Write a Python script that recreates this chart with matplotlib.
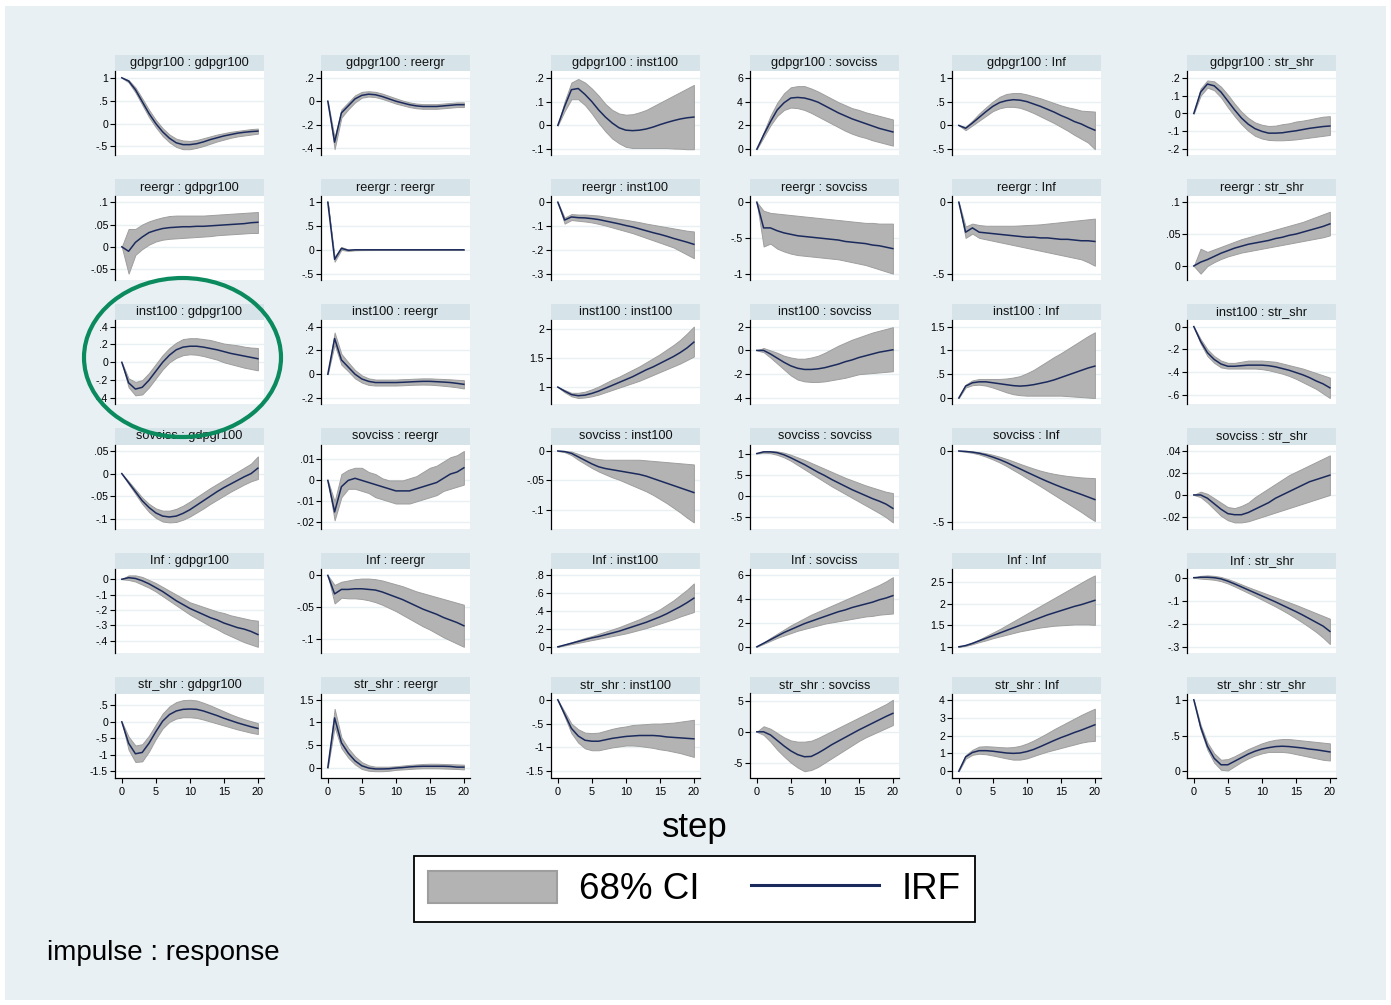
import matplotlib
matplotlib.use("Agg")
import matplotlib.pyplot as plt
from matplotlib.patches import Patch, Rectangle, Ellipse
from matplotlib.lines import Line2D

# ---------------------------------------------
# data: orthogonalised IRFs, 68% CI, steps 0..20
# ---------------------------------------------
steps = list(range(21))
variables = ["gdpgr100", "reergr", "inst100", "sovciss", "Inf", "str_shr"]

# impulse gdpgr100
gdp_gdp_irf = [1.0, 0.93, 0.74, 0.48, 0.22, 0.0, -0.18, -0.32, -0.42, -0.46, -0.46, -0.44, -0.40, -0.35, -0.31, -0.27, -0.24, -0.21, -0.19, -0.175, -0.165]
gdp_gdp_lo = [1.0, 0.90, 0.68, 0.41, 0.14, -0.08, -0.27, -0.41, -0.51, -0.56, -0.56, -0.53, -0.49, -0.44, -0.39, -0.35, -0.31, -0.28, -0.26, -0.24, -0.22]
gdp_gdp_hi = [1.0, 0.95, 0.79, 0.55, 0.30, 0.08, -0.10, -0.24, -0.33, -0.37, -0.38, -0.36, -0.32, -0.28, -0.24, -0.21, -0.18, -0.16, -0.14, -0.12, -0.11]
gdp_gdp_ticks = [-0.5, 0, 0.5, 1]

gdp_reer_irf = [0, -0.35, -0.10, -0.04, 0.02, 0.05, 0.06, 0.055, 0.04, 0.02, 0.0, -0.015, -0.03, -0.04, -0.045, -0.045, -0.045, -0.04, -0.035, -0.03, -0.03]
gdp_reer_lo = [0, -0.41, -0.14, -0.07, -0.01, 0.03, 0.04, 0.035, 0.02, 0.0, -0.02, -0.035, -0.05, -0.06, -0.065, -0.065, -0.065, -0.06, -0.055, -0.05, -0.05]
gdp_reer_hi = [0, -0.31, -0.07, -0.01, 0.05, 0.08, 0.085, 0.08, 0.065, 0.045, 0.025, 0.005, -0.01, -0.02, -0.025, -0.025, -0.025, -0.02, -0.015, -0.01, -0.01]
gdp_reer_ticks = [-0.4, -0.2, 0, 0.2]

gdp_inst_irf = [0, 0.08, 0.15, 0.155, 0.13, 0.10, 0.065, 0.035, 0.01, -0.01, -0.02, -0.022, -0.02, -0.015, -0.007, 0.003, 0.012, 0.02, 0.027, 0.032, 0.035]
gdp_inst_lo = [0, 0.06, 0.11, 0.11, 0.085, 0.05, 0.01, -0.025, -0.055, -0.075, -0.09, -0.095, -0.095, -0.095, -0.095, -0.095, -0.095, -0.097, -0.098, -0.10, -0.10]
gdp_inst_hi = [0, 0.10, 0.18, 0.195, 0.18, 0.155, 0.125, 0.09, 0.065, 0.05, 0.045, 0.047, 0.055, 0.065, 0.08, 0.095, 0.11, 0.125, 0.14, 0.155, 0.17]
gdp_inst_ticks = [-0.1, 0, 0.1, 0.2]

gdp_sov_irf = [0, 1.2, 2.3, 3.3, 3.9, 4.3, 4.35, 4.3, 4.15, 3.95, 3.65, 3.35, 3.05, 2.8, 2.55, 2.35, 2.15, 1.95, 1.75, 1.6, 1.45]
gdp_sov_lo = [0, 1.0, 2.0, 2.8, 3.3, 3.5, 3.45, 3.3, 3.05, 2.75, 2.45, 2.15, 1.85, 1.55, 1.3, 1.1, 0.95, 0.75, 0.6, 0.45, 0.3]
gdp_sov_hi = [0, 1.4, 2.8, 3.9, 4.7, 5.2, 5.3, 5.3, 5.1, 4.85, 4.55, 4.25, 3.95, 3.7, 3.45, 3.3, 3.1, 2.95, 2.8, 2.65, 2.5]
gdp_sov_ticks = [0, 2, 4, 6]

gdp_inf_irf = [0, -0.06, 0.05, 0.17, 0.29, 0.40, 0.48, 0.52, 0.54, 0.53, 0.50, 0.45, 0.40, 0.34, 0.28, 0.21, 0.15, 0.08, 0.03, -0.04, -0.10]
gdp_inf_lo = [0, -0.10, 0.0, 0.10, 0.20, 0.30, 0.36, 0.39, 0.39, 0.37, 0.32, 0.26, 0.19, 0.12, 0.05, -0.03, -0.11, -0.20, -0.28, -0.36, -0.50]
gdp_inf_hi = [0, -0.03, 0.10, 0.25, 0.38, 0.50, 0.60, 0.66, 0.68, 0.68, 0.65, 0.61, 0.57, 0.52, 0.47, 0.42, 0.38, 0.35, 0.31, 0.30, 0.29]
gdp_inf_ticks = [-0.5, 0, 0.5, 1]

gdp_shr_irf = [0, 0.12, 0.165, 0.155, 0.12, 0.07, 0.02, -0.025, -0.06, -0.085, -0.10, -0.11, -0.11, -0.108, -0.102, -0.097, -0.09, -0.083, -0.078, -0.073, -0.07]
gdp_shr_lo = [0, 0.10, 0.145, 0.13, 0.09, 0.035, -0.015, -0.06, -0.097, -0.125, -0.14, -0.148, -0.15, -0.15, -0.148, -0.145, -0.14, -0.135, -0.13, -0.125, -0.12]
gdp_shr_hi = [0, 0.14, 0.185, 0.18, 0.15, 0.105, 0.055, 0.01, -0.025, -0.05, -0.063, -0.07, -0.068, -0.06, -0.055, -0.045, -0.04, -0.033, -0.025, -0.018, -0.015]
gdp_shr_ticks = [-0.2, -0.1, 0, 0.1, 0.2]

# impulse reergr
reer_gdp_irf = [0, -0.01, 0.01, 0.022, 0.032, 0.037, 0.041, 0.043, 0.044, 0.045, 0.045, 0.046, 0.046, 0.047, 0.048, 0.049, 0.05, 0.051, 0.052, 0.054, 0.055]
reer_gdp_lo = [0, -0.06, -0.018, -0.005, 0.005, 0.012, 0.016, 0.018, 0.019, 0.02, 0.021, 0.022, 0.023, 0.024, 0.026, 0.027, 0.028, 0.029, 0.03, 0.031, 0.031]
reer_gdp_hi = [0, 0.04, 0.04, 0.05, 0.057, 0.062, 0.066, 0.069, 0.07, 0.07, 0.07, 0.07, 0.07, 0.071, 0.072, 0.073, 0.074, 0.075, 0.076, 0.077, 0.078]
reer_gdp_ticks = [-0.05, 0, 0.05, 0.1]

reer_reer_irf = [1.0, -0.2, 0.03, -0.01, 0.0, 0.0, 0.0, 0.0, 0.0, 0.0, 0.0, 0.0, 0.0, 0.0, 0.0, 0.0, 0.0, 0.0, 0.0, 0.0, 0.0]
reer_reer_lo = [1.0, -0.25, 0.0, -0.025, -0.01, -0.006, -0.005, -0.004, -0.004, -0.004, -0.004, -0.004, -0.004, -0.004, -0.004, -0.004, -0.004, -0.004, -0.004, -0.004, -0.004]
reer_reer_hi = [1.0, -0.15, 0.06, 0.005, 0.01, 0.006, 0.005, 0.004, 0.004, 0.004, 0.004, 0.004, 0.004, 0.004, 0.004, 0.004, 0.004, 0.004, 0.004, 0.004, 0.004]
reer_reer_ticks = [-0.5, 0, 0.5, 1]

reer_inst_irf = [0, -0.075, -0.062, -0.065, -0.066, -0.069, -0.073, -0.079, -0.085, -0.091, -0.098, -0.104, -0.112, -0.12, -0.128, -0.135, -0.143, -0.152, -0.16, -0.168, -0.177]
reer_inst_lo = [0, -0.09, -0.075, -0.078, -0.081, -0.085, -0.091, -0.098, -0.106, -0.114, -0.122, -0.13, -0.14, -0.15, -0.16, -0.17, -0.18, -0.19, -0.205, -0.22, -0.235]
reer_inst_hi = [0, -0.065, -0.05, -0.052, -0.052, -0.054, -0.056, -0.061, -0.065, -0.07, -0.074, -0.079, -0.084, -0.09, -0.095, -0.10, -0.105, -0.11, -0.115, -0.12, -0.123]
reer_inst_ticks = [-0.3, -0.2, -0.1, 0]

reer_sov_irf = [0, -0.36, -0.36, -0.40, -0.43, -0.45, -0.47, -0.48, -0.49, -0.50, -0.51, -0.52, -0.53, -0.55, -0.56, -0.57, -0.58, -0.60, -0.61, -0.63, -0.65]
reer_sov_lo = [0, -0.62, -0.58, -0.65, -0.69, -0.72, -0.74, -0.75, -0.76, -0.77, -0.78, -0.79, -0.80, -0.82, -0.84, -0.86, -0.88, -0.91, -0.94, -0.97, -1.0]
reer_sov_hi = [0, -0.12, -0.15, -0.16, -0.17, -0.18, -0.19, -0.20, -0.21, -0.22, -0.23, -0.24, -0.25, -0.26, -0.27, -0.28, -0.29, -0.29, -0.30, -0.30, -0.30]
reer_sov_ticks = [-1, -0.5, 0]

reer_inf_irf = [0, -0.21, -0.18, -0.21, -0.215, -0.22, -0.225, -0.23, -0.235, -0.24, -0.245, -0.245, -0.25, -0.25, -0.255, -0.26, -0.26, -0.265, -0.27, -0.27, -0.275]
reer_inf_lo = [0, -0.25, -0.22, -0.25, -0.26, -0.27, -0.28, -0.29, -0.30, -0.31, -0.32, -0.33, -0.34, -0.35, -0.36, -0.37, -0.38, -0.39, -0.40, -0.42, -0.445]
reer_inf_hi = [0, -0.17, -0.15, -0.16, -0.165, -0.165, -0.165, -0.165, -0.165, -0.163, -0.16, -0.158, -0.155, -0.15, -0.145, -0.14, -0.135, -0.13, -0.125, -0.12, -0.115]
reer_inf_ticks = [-0.5, 0]

reer_shr_irf = [0, 0.006, 0.01, 0.015, 0.02, 0.024, 0.028, 0.031, 0.034, 0.036, 0.038, 0.04, 0.043, 0.045, 0.048, 0.05, 0.053, 0.056, 0.059, 0.062, 0.066]
reer_shr_lo = [0, -0.012, 0.0, 0.006, 0.011, 0.015, 0.018, 0.021, 0.023, 0.025, 0.027, 0.029, 0.031, 0.033, 0.035, 0.037, 0.039, 0.041, 0.043, 0.045, 0.048]
reer_shr_hi = [0, 0.027, 0.022, 0.026, 0.03, 0.034, 0.038, 0.042, 0.045, 0.048, 0.051, 0.054, 0.057, 0.06, 0.063, 0.066, 0.069, 0.073, 0.077, 0.081, 0.085]
reer_shr_ticks = [0, 0.05, 0.1]

# impulse inst100
inst_gdp_irf = [0, -0.23, -0.30, -0.28, -0.20, -0.10, 0.0, 0.08, 0.14, 0.17, 0.18, 0.18, 0.17, 0.155, 0.14, 0.12, 0.10, 0.085, 0.07, 0.055, 0.04]
inst_gdp_lo = [0, -0.28, -0.37, -0.36, -0.28, -0.18, -0.08, 0.0, 0.05, 0.08, 0.09, 0.085, 0.07, 0.05, 0.03, 0.0, -0.02, -0.04, -0.06, -0.075, -0.09]
inst_gdp_hi = [0, -0.18, -0.22, -0.20, -0.12, -0.02, 0.08, 0.16, 0.22, 0.26, 0.27, 0.27, 0.26, 0.25, 0.23, 0.21, 0.20, 0.19, 0.175, 0.165, 0.16]
inst_gdp_ticks = [-0.4, -0.2, 0, 0.2, 0.4]

inst_reer_irf = [0, 0.30, 0.12, 0.06, 0.0, -0.04, -0.06, -0.07, -0.07, -0.07, -0.07, -0.068, -0.065, -0.062, -0.06, -0.06, -0.063, -0.066, -0.07, -0.077, -0.085]
inst_reer_lo = [0, 0.25, 0.08, 0.025, -0.035, -0.07, -0.09, -0.095, -0.095, -0.095, -0.095, -0.093, -0.09, -0.088, -0.087, -0.088, -0.092, -0.097, -0.103, -0.11, -0.12]
inst_reer_hi = [0, 0.35, 0.17, 0.10, 0.035, -0.01, -0.035, -0.045, -0.045, -0.045, -0.045, -0.042, -0.04, -0.037, -0.035, -0.035, -0.038, -0.04, -0.043, -0.047, -0.05]
inst_reer_ticks = [-0.2, 0, 0.2, 0.4]

inst_inst_irf = [1.0, 0.93, 0.87, 0.85, 0.86, 0.89, 0.93, 0.98, 1.03, 1.08, 1.13, 1.18, 1.24, 1.30, 1.35, 1.41, 1.47, 1.53, 1.60, 1.68, 1.78]
inst_inst_lo = [1.0, 0.91, 0.84, 0.81, 0.82, 0.84, 0.87, 0.91, 0.95, 0.99, 1.03, 1.07, 1.11, 1.16, 1.21, 1.26, 1.31, 1.36, 1.41, 1.47, 1.53]
inst_inst_hi = [1.0, 0.95, 0.90, 0.90, 0.92, 0.96, 1.01, 1.07, 1.13, 1.18, 1.24, 1.30, 1.36, 1.43, 1.50, 1.57, 1.65, 1.73, 1.82, 1.93, 2.05]
inst_inst_ticks = [1, 1.5, 2]

inst_sov_irf = [0, 0.0, -0.3, -0.65, -1.0, -1.3, -1.5, -1.6, -1.6, -1.55, -1.45, -1.3, -1.15, -0.95, -0.8, -0.6, -0.45, -0.3, -0.15, -0.05, 0.05]
inst_sov_lo = [0, -0.15, -0.6, -1.1, -1.6, -2.1, -2.45, -2.6, -2.65, -2.65, -2.6, -2.5, -2.4, -2.3, -2.15, -2.0, -1.95, -1.9, -1.85, -1.8, -1.75]
inst_sov_hi = [0, 0.2, 0.0, -0.2, -0.45, -0.6, -0.7, -0.7, -0.6, -0.45, -0.2, 0.1, 0.4, 0.65, 0.9, 1.1, 1.3, 1.5, 1.65, 1.8, 1.95]
inst_sov_ticks = [-4, -2, 0, 2]

inst_inf_irf = [0, 0.25, 0.32, 0.34, 0.34, 0.32, 0.30, 0.28, 0.26, 0.25, 0.26, 0.28, 0.31, 0.34, 0.38, 0.43, 0.48, 0.53, 0.58, 0.63, 0.67]
inst_inf_lo = [0, 0.22, 0.27, 0.28, 0.26, 0.22, 0.17, 0.12, 0.08, 0.06, 0.05, 0.05, 0.05, 0.05, 0.05, 0.05, 0.04, 0.03, 0.02, 0.01, 0.0]
inst_inf_hi = [0, 0.28, 0.37, 0.40, 0.40, 0.40, 0.40, 0.41, 0.43, 0.46, 0.52, 0.59, 0.68, 0.77, 0.86, 0.94, 1.03, 1.12, 1.21, 1.30, 1.38]
inst_inf_ticks = [0, 0.5, 1, 1.5]

inst_shr_irf = [0, -0.13, -0.23, -0.29, -0.33, -0.35, -0.35, -0.345, -0.34, -0.34, -0.34, -0.345, -0.355, -0.37, -0.385, -0.405, -0.425, -0.45, -0.48, -0.505, -0.54]
inst_shr_lo = [0, -0.15, -0.26, -0.32, -0.36, -0.37, -0.37, -0.37, -0.37, -0.37, -0.375, -0.385, -0.40, -0.415, -0.435, -0.46, -0.49, -0.52, -0.55, -0.59, -0.63]
inst_shr_hi = [0, -0.11, -0.20, -0.26, -0.30, -0.32, -0.32, -0.31, -0.30, -0.30, -0.30, -0.305, -0.31, -0.325, -0.34, -0.355, -0.37, -0.39, -0.41, -0.43, -0.45]
inst_shr_ticks = [-0.6, -0.4, -0.2, 0]

# impulse sovciss
sov_gdp_irf = [0, -0.02, -0.04, -0.06, -0.075, -0.087, -0.094, -0.096, -0.094, -0.088, -0.08, -0.07, -0.06, -0.05, -0.04, -0.031, -0.023, -0.015, -0.007, 0.0, 0.012]
sov_gdp_lo = [0, -0.023, -0.045, -0.067, -0.085, -0.098, -0.106, -0.108, -0.107, -0.102, -0.095, -0.086, -0.077, -0.067, -0.058, -0.049, -0.04, -0.032, -0.024, -0.017, -0.012]
sov_gdp_hi = [0, -0.017, -0.035, -0.053, -0.067, -0.077, -0.082, -0.082, -0.078, -0.071, -0.062, -0.052, -0.042, -0.032, -0.023, -0.014, -0.005, 0.004, 0.013, 0.022, 0.038]
sov_gdp_ticks = [-0.1, -0.05, 0, 0.05]

sov_reer_irf = [0, -0.015, -0.003, 0.0, 0.001, 0.0, -0.001, -0.002, -0.003, -0.004, -0.005, -0.005, -0.005, -0.004, -0.003, -0.002, -0.001, 0.001, 0.003, 0.004, 0.006]
sov_reer_lo = [0, -0.019, -0.008, -0.004, -0.004, -0.005, -0.006, -0.008, -0.009, -0.010, -0.011, -0.011, -0.011, -0.010, -0.009, -0.008, -0.007, -0.005, -0.004, -0.003, -0.002]
sov_reer_hi = [0, -0.010, 0.003, 0.005, 0.006, 0.006, 0.004, 0.003, 0.001, 0.0, 0.0, 0.0, 0.001, 0.002, 0.004, 0.006, 0.007, 0.009, 0.011, 0.012, 0.014]
sov_reer_ticks = [-0.02, -0.01, 0, 0.01]

sov_inst_irf = [0, -0.001, -0.004, -0.01, -0.016, -0.022, -0.027, -0.03, -0.032, -0.034, -0.036, -0.038, -0.04, -0.043, -0.047, -0.051, -0.055, -0.059, -0.063, -0.067, -0.071]
sov_inst_lo = [0, -0.002, -0.007, -0.015, -0.022, -0.029, -0.035, -0.04, -0.045, -0.049, -0.054, -0.059, -0.064, -0.069, -0.075, -0.082, -0.089, -0.097, -0.105, -0.114, -0.122]
sov_inst_hi = [0, 0.0, -0.001, -0.005, -0.009, -0.012, -0.014, -0.015, -0.015, -0.015, -0.015, -0.015, -0.015, -0.016, -0.017, -0.018, -0.019, -0.02, -0.021, -0.022, -0.023]
sov_inst_ticks = [-0.1, -0.05, 0]

sov_sov_irf = [1.0, 1.04, 1.04, 1.02, 0.97, 0.90, 0.82, 0.74, 0.65, 0.56, 0.48, 0.39, 0.31, 0.23, 0.15, 0.08, 0.01, -0.06, -0.12, -0.19, -0.29]
sov_sov_lo = [1.0, 1.02, 1.01, 0.97, 0.91, 0.83, 0.73, 0.63, 0.53, 0.43, 0.33, 0.23, 0.14, 0.05, -0.04, -0.13, -0.22, -0.31, -0.40, -0.50, -0.62]
sov_sov_hi = [1.0, 1.05, 1.06, 1.05, 1.02, 0.97, 0.91, 0.85, 0.78, 0.71, 0.64, 0.57, 0.50, 0.43, 0.37, 0.31, 0.25, 0.20, 0.15, 0.10, 0.07]
sov_sov_ticks = [-0.5, 0, 0.5, 1]

sov_inf_irf = [0, -0.003, -0.008, -0.016, -0.028, -0.043, -0.06, -0.08, -0.103, -0.125, -0.148, -0.17, -0.192, -0.213, -0.233, -0.252, -0.27, -0.287, -0.304, -0.322, -0.34]
sov_inf_lo = [0, -0.006, -0.013, -0.024, -0.04, -0.059, -0.08, -0.105, -0.133, -0.16, -0.19, -0.218, -0.247, -0.277, -0.307, -0.337, -0.367, -0.397, -0.427, -0.46, -0.49]
sov_inf_hi = [0, 0.0, -0.003, -0.008, -0.016, -0.027, -0.04, -0.055, -0.072, -0.09, -0.107, -0.123, -0.138, -0.15, -0.16, -0.168, -0.175, -0.18, -0.185, -0.188, -0.19]
sov_inf_ticks = [-0.5, 0]

sov_shr_irf = [0, 0.0, -0.003, -0.008, -0.013, -0.017, -0.018, -0.018, -0.016, -0.013, -0.01, -0.007, -0.003, 0.0, 0.003, 0.006, 0.009, 0.012, 0.014, 0.016, 0.018]
sov_shr_lo = [0, -0.002, -0.007, -0.013, -0.019, -0.023, -0.025, -0.025, -0.024, -0.022, -0.02, -0.018, -0.016, -0.014, -0.012, -0.01, -0.008, -0.006, -0.004, -0.002, 0.0]
sov_shr_hi = [0, 0.003, 0.001, -0.003, -0.007, -0.011, -0.012, -0.01, -0.007, -0.002, 0.002, 0.006, 0.01, 0.014, 0.018, 0.021, 0.024, 0.027, 0.03, 0.033, 0.036]
sov_shr_ticks = [-0.02, 0, 0.02, 0.04]

# impulse Inf
inf_gdp_irf = [0, 0.01, 0.005, -0.01, -0.03, -0.055, -0.08, -0.11, -0.14, -0.165, -0.19, -0.21, -0.23, -0.25, -0.265, -0.285, -0.30, -0.315, -0.325, -0.34, -0.36]
inf_gdp_lo = [0, -0.005, -0.015, -0.035, -0.055, -0.08, -0.11, -0.14, -0.17, -0.20, -0.23, -0.255, -0.28, -0.305, -0.325, -0.35, -0.37, -0.39, -0.41, -0.425, -0.44]
inf_gdp_hi = [0, 0.025, 0.025, 0.015, -0.005, -0.025, -0.05, -0.075, -0.10, -0.125, -0.15, -0.165, -0.18, -0.195, -0.21, -0.22, -0.235, -0.245, -0.255, -0.265, -0.27]
inf_gdp_ticks = [-0.4, -0.3, -0.2, -0.1, 0]

inf_reer_irf = [0, -0.029, -0.022, -0.022, -0.021, -0.021, -0.022, -0.023, -0.026, -0.03, -0.034, -0.038, -0.043, -0.048, -0.053, -0.057, -0.061, -0.066, -0.07, -0.074, -0.079]
inf_reer_lo = [0, -0.044, -0.035, -0.036, -0.036, -0.037, -0.039, -0.042, -0.046, -0.051, -0.056, -0.062, -0.068, -0.074, -0.08, -0.085, -0.091, -0.097, -0.102, -0.107, -0.112]
inf_reer_hi = [0, -0.015, -0.01, -0.008, -0.006, -0.005, -0.005, -0.006, -0.008, -0.011, -0.014, -0.017, -0.021, -0.025, -0.028, -0.031, -0.034, -0.037, -0.04, -0.043, -0.046]
inf_reer_ticks = [-0.1, -0.05, 0]

inf_inst_irf = [0, 0.02, 0.04, 0.06, 0.08, 0.10, 0.115, 0.135, 0.155, 0.175, 0.20, 0.225, 0.25, 0.275, 0.305, 0.335, 0.37, 0.41, 0.45, 0.495, 0.545]
inf_inst_lo = [0, 0.015, 0.03, 0.045, 0.06, 0.075, 0.09, 0.105, 0.12, 0.135, 0.15, 0.17, 0.19, 0.21, 0.235, 0.26, 0.285, 0.31, 0.34, 0.365, 0.39]
inf_inst_hi = [0, 0.025, 0.05, 0.075, 0.10, 0.12, 0.145, 0.17, 0.195, 0.22, 0.25, 0.28, 0.31, 0.345, 0.38, 0.42, 0.47, 0.52, 0.58, 0.64, 0.71]
inf_inst_ticks = [0, 0.2, 0.4, 0.6, 0.8]

inf_sov_irf = [0, 0.3, 0.6, 0.9, 1.2, 1.45, 1.7, 1.95, 2.15, 2.35, 2.55, 2.75, 2.95, 3.1, 3.3, 3.45, 3.6, 3.75, 3.95, 4.1, 4.3]
inf_sov_lo = [0, 0.25, 0.5, 0.75, 0.95, 1.15, 1.35, 1.5, 1.65, 1.8, 1.95, 2.05, 2.15, 2.25, 2.35, 2.45, 2.55, 2.6, 2.7, 2.75, 2.8]
inf_sov_hi = [0, 0.35, 0.75, 1.1, 1.45, 1.8, 2.1, 2.4, 2.7, 2.95, 3.2, 3.45, 3.7, 3.95, 4.2, 4.45, 4.7, 4.95, 5.2, 5.5, 5.85]
inf_sov_ticks = [0, 2, 4, 6]

inf_inf_irf = [1.0, 1.03, 1.08, 1.14, 1.20, 1.26, 1.32, 1.38, 1.44, 1.50, 1.56, 1.62, 1.68, 1.74, 1.79, 1.84, 1.89, 1.94, 1.98, 2.03, 2.08]
inf_inf_lo = [1.0, 1.02, 1.06, 1.11, 1.15, 1.20, 1.24, 1.28, 1.32, 1.36, 1.39, 1.42, 1.45, 1.47, 1.49, 1.50, 1.51, 1.52, 1.52, 1.52, 1.51]
inf_inf_hi = [1.0, 1.04, 1.10, 1.17, 1.25, 1.33, 1.41, 1.50, 1.59, 1.68, 1.77, 1.86, 1.95, 2.04, 2.13, 2.22, 2.31, 2.40, 2.49, 2.58, 2.66]
inf_inf_ticks = [1, 1.5, 2, 2.5]

inf_shr_irf = [0, 0.002, 0.002, 0.0, -0.005, -0.015, -0.027, -0.04, -0.053, -0.066, -0.079, -0.092, -0.105, -0.119, -0.133, -0.147, -0.162, -0.178, -0.194, -0.21, -0.233]
inf_shr_lo = [0, -0.004, -0.006, -0.009, -0.015, -0.025, -0.038, -0.052, -0.066, -0.08, -0.095, -0.11, -0.125, -0.141, -0.158, -0.176, -0.195, -0.215, -0.236, -0.26, -0.288]
inf_shr_hi = [0, 0.008, 0.01, 0.008, 0.003, -0.006, -0.017, -0.029, -0.041, -0.052, -0.063, -0.074, -0.085, -0.096, -0.107, -0.118, -0.13, -0.142, -0.154, -0.166, -0.178]
inf_shr_ticks = [-0.3, -0.2, -0.1, 0]

# impulse str_shr
shr_gdp_irf = [0, -0.65, -0.97, -0.93, -0.65, -0.30, 0.02, 0.22, 0.33, 0.38, 0.39, 0.38, 0.33, 0.26, 0.19, 0.11, 0.04, -0.03, -0.09, -0.15, -0.20]
shr_gdp_lo = [0, -0.85, -1.22, -1.20, -0.90, -0.52, -0.20, 0.0, 0.10, 0.14, 0.14, 0.12, 0.07, 0.01, -0.05, -0.11, -0.17, -0.23, -0.28, -0.33, -0.37]
shr_gdp_hi = [0, -0.45, -0.72, -0.68, -0.42, -0.08, 0.25, 0.47, 0.60, 0.66, 0.67, 0.65, 0.58, 0.50, 0.41, 0.32, 0.23, 0.15, 0.08, 0.02, -0.04]
shr_gdp_ticks = [-1.5, -1, -0.5, 0, 0.5]

shr_reer_irf = [0, 1.1, 0.55, 0.32, 0.15, 0.04, -0.01, -0.03, -0.03, -0.025, -0.01, 0.0, 0.015, 0.025, 0.03, 0.03, 0.03, 0.03, 0.025, 0.01, 0.01]
shr_reer_lo = [0, 0.9, 0.43, 0.22, 0.07, -0.03, -0.07, -0.08, -0.08, -0.07, -0.05, -0.04, -0.03, -0.02, -0.015, -0.015, -0.015, -0.02, -0.025, -0.03, -0.04]
shr_reer_hi = [0, 1.3, 0.67, 0.43, 0.25, 0.12, 0.05, 0.02, 0.02, 0.02, 0.03, 0.045, 0.06, 0.07, 0.08, 0.085, 0.085, 0.08, 0.075, 0.07, 0.065]
shr_reer_ticks = [0, 0.5, 1, 1.5]

shr_inst_irf = [0, -0.30, -0.60, -0.76, -0.85, -0.87, -0.87, -0.84, -0.81, -0.79, -0.77, -0.76, -0.75, -0.75, -0.75, -0.76, -0.78, -0.79, -0.80, -0.81, -0.82]
shr_inst_lo = [0, -0.35, -0.70, -0.90, -1.02, -1.06, -1.06, -1.03, -1.00, -0.98, -0.96, -0.96, -0.97, -0.99, -1.01, -1.04, -1.06, -1.09, -1.12, -1.16, -1.20]
shr_inst_hi = [0, -0.25, -0.50, -0.62, -0.69, -0.70, -0.69, -0.65, -0.61, -0.58, -0.56, -0.53, -0.52, -0.51, -0.50, -0.50, -0.49, -0.48, -0.46, -0.44, -0.42]
shr_inst_ticks = [-1.5, -1, -0.5, 0]

shr_sov_irf = [0, 0.0, -0.5, -1.4, -2.3, -3.1, -3.7, -4.05, -4.0, -3.45, -2.8, -2.1, -1.5, -0.9, -0.3, 0.3, 0.85, 1.4, 1.95, 2.5, 3.0]
shr_sov_lo = [0, -0.5, -1.6, -2.9, -4.0, -5.0, -5.8, -6.4, -6.2, -5.7, -5.0, -4.3, -3.6, -2.9, -2.2, -1.5, -0.9, -0.4, 0.1, 0.6, 1.1]
shr_sov_hi = [0, 0.9, 0.5, -0.2, -0.9, -1.4, -1.6, -1.6, -1.45, -1.0, -0.45, 0.1, 0.65, 1.2, 1.75, 2.3, 2.85, 3.4, 3.95, 4.5, 5.2]
shr_sov_ticks = [-5, 0, 5]

shr_inf_irf = [0, 0.8, 1.05, 1.15, 1.15, 1.12, 1.07, 1.02, 1.0, 1.02, 1.10, 1.22, 1.38, 1.55, 1.72, 1.88, 2.02, 2.17, 2.30, 2.45, 2.60]
shr_inf_lo = [0, 0.7, 0.92, 0.98, 0.95, 0.88, 0.80, 0.72, 0.65, 0.65, 0.72, 0.85, 0.98, 1.10, 1.20, 1.30, 1.40, 1.50, 1.60, 1.67, 1.70]
shr_inf_hi = [0, 0.9, 1.20, 1.38, 1.40, 1.38, 1.35, 1.33, 1.35, 1.42, 1.55, 1.72, 1.92, 2.13, 2.35, 2.55, 2.75, 2.95, 3.15, 3.33, 3.50]
shr_inf_ticks = [0, 1, 2, 3, 4]

shr_shr_irf = [1.0, 0.62, 0.35, 0.18, 0.09, 0.09, 0.14, 0.19, 0.24, 0.28, 0.31, 0.33, 0.345, 0.35, 0.345, 0.335, 0.325, 0.31, 0.30, 0.285, 0.27]
shr_shr_lo = [1.0, 0.58, 0.30, 0.12, 0.02, 0.01, 0.07, 0.13, 0.18, 0.22, 0.25, 0.27, 0.27, 0.27, 0.26, 0.24, 0.22, 0.20, 0.18, 0.16, 0.15]
shr_shr_hi = [1.0, 0.65, 0.40, 0.25, 0.16, 0.17, 0.21, 0.26, 0.31, 0.35, 0.39, 0.42, 0.44, 0.45, 0.45, 0.44, 0.43, 0.42, 0.41, 0.40, 0.39]
shr_shr_ticks = [0, 0.5, 1]

x_ticks = [0, 5, 10, 15, 20]

# rows = impulse, columns = response
panels = [
    [(gdp_gdp_irf, gdp_gdp_lo, gdp_gdp_hi, gdp_gdp_ticks), (gdp_reer_irf, gdp_reer_lo, gdp_reer_hi, gdp_reer_ticks),
     (gdp_inst_irf, gdp_inst_lo, gdp_inst_hi, gdp_inst_ticks), (gdp_sov_irf, gdp_sov_lo, gdp_sov_hi, gdp_sov_ticks),
     (gdp_inf_irf, gdp_inf_lo, gdp_inf_hi, gdp_inf_ticks), (gdp_shr_irf, gdp_shr_lo, gdp_shr_hi, gdp_shr_ticks)],
    [(reer_gdp_irf, reer_gdp_lo, reer_gdp_hi, reer_gdp_ticks), (reer_reer_irf, reer_reer_lo, reer_reer_hi, reer_reer_ticks),
     (reer_inst_irf, reer_inst_lo, reer_inst_hi, reer_inst_ticks), (reer_sov_irf, reer_sov_lo, reer_sov_hi, reer_sov_ticks),
     (reer_inf_irf, reer_inf_lo, reer_inf_hi, reer_inf_ticks), (reer_shr_irf, reer_shr_lo, reer_shr_hi, reer_shr_ticks)],
    [(inst_gdp_irf, inst_gdp_lo, inst_gdp_hi, inst_gdp_ticks), (inst_reer_irf, inst_reer_lo, inst_reer_hi, inst_reer_ticks),
     (inst_inst_irf, inst_inst_lo, inst_inst_hi, inst_inst_ticks), (inst_sov_irf, inst_sov_lo, inst_sov_hi, inst_sov_ticks),
     (inst_inf_irf, inst_inf_lo, inst_inf_hi, inst_inf_ticks), (inst_shr_irf, inst_shr_lo, inst_shr_hi, inst_shr_ticks)],
    [(sov_gdp_irf, sov_gdp_lo, sov_gdp_hi, sov_gdp_ticks), (sov_reer_irf, sov_reer_lo, sov_reer_hi, sov_reer_ticks),
     (sov_inst_irf, sov_inst_lo, sov_inst_hi, sov_inst_ticks), (sov_sov_irf, sov_sov_lo, sov_sov_hi, sov_sov_ticks),
     (sov_inf_irf, sov_inf_lo, sov_inf_hi, sov_inf_ticks), (sov_shr_irf, sov_shr_lo, sov_shr_hi, sov_shr_ticks)],
    [(inf_gdp_irf, inf_gdp_lo, inf_gdp_hi, inf_gdp_ticks), (inf_reer_irf, inf_reer_lo, inf_reer_hi, inf_reer_ticks),
     (inf_inst_irf, inf_inst_lo, inf_inst_hi, inf_inst_ticks), (inf_sov_irf, inf_sov_lo, inf_sov_hi, inf_sov_ticks),
     (inf_inf_irf, inf_inf_lo, inf_inf_hi, inf_inf_ticks), (inf_shr_irf, inf_shr_lo, inf_shr_hi, inf_shr_ticks)],
    [(shr_gdp_irf, shr_gdp_lo, shr_gdp_hi, shr_gdp_ticks), (shr_reer_irf, shr_reer_lo, shr_reer_hi, shr_reer_ticks),
     (shr_inst_irf, shr_inst_lo, shr_inst_hi, shr_inst_ticks), (shr_sov_irf, shr_sov_lo, shr_sov_hi, shr_sov_ticks),
     (shr_inf_irf, shr_inf_lo, shr_inf_hi, shr_inf_ticks), (shr_shr_irf, shr_shr_lo, shr_shr_hi, shr_shr_ticks)],
]

# ---------------------------------------------
# style (Stata s2color look)
# ---------------------------------------------
BG = "#E8F0F3"
STRIP = "#D6E3E9"
GRID = "#E8F0F3"
CI_FACE = "#B3B3B3"
CI_EDGE = "#9E9E9E"
IRF_COL = "#1B2A5C"
RING = "#0B8A5E"

plt.rcParams["font.family"] = ["Liberation Sans", "DejaVu Sans"]


def stata_label(v):
    s = f"{v:g}"
    if abs(v) < 1:
        s = s.replace("0.", ".")
    return s


W, H = 1391, 1005
fig = plt.figure(figsize=(W / 100, H / 100), dpi=100, facecolor="white")
fig.add_artist(Rectangle((5 / W, 5 / H), 1 - 10 / W, 1 - 11 / H, transform=fig.transFigure,
                         facecolor=BG, edgecolor="none", zorder=-10))

col_left = [115, 321, 551, 750, 952, 1187]
row_top = [71.5, 195.9, 320.3, 444.7, 569.1, 693.5]
ax_w, ax_h, strip_h = 149, 84, 16.5

for i in range(6):
    for j in range(6):
        irf, lo, hi, yt = panels[i][j]
        ax = fig.add_axes([col_left[j] / W, 1 - (row_top[i] + ax_h) / H, ax_w / W, ax_h / H])
        ax.set_facecolor("white")
        ax.fill_between(steps, lo, hi, facecolor=CI_FACE, edgecolor=CI_EDGE, lw=0.7, zorder=2)
        ax.plot(steps, irf, color=IRF_COL, lw=1.1, zorder=3)

        ymin = min(min(lo), min(yt))
        ymax = max(max(hi), max(yt))
        pad = 0.088 * (ymax - ymin)
        ax.set_ylim(ymin - pad, ymax + pad)
        ax.set_xlim(-1, 20.9)

        ax.set_yticks(yt)
        ax.set_yticklabels([stata_label(v) for v in yt])
        ax.yaxis.grid(True, color=GRID, lw=1.0)
        ax.set_axisbelow(True)
        ax.tick_params(axis="y", length=3.5, width=0.8, pad=1.5, labelsize=7.6, colors="black")

        for side in ["top", "right"]:
            ax.spines[side].set_visible(False)
        ax.spines["left"].set_linewidth(0.9)
        if i == 5:
            ax.set_xticks(x_ticks)
            ax.tick_params(axis="x", length=3.5, width=0.8, pad=3, labelsize=7.8)
            ax.spines["bottom"].set_linewidth(0.9)
        else:
            ax.set_xticks([])
            ax.spines["bottom"].set_visible(False)

        # title strip
        ax.add_patch(Rectangle((0, 1), 1, strip_h / ax_h, transform=ax.transAxes, clip_on=False,
                               facecolor=STRIP, edgecolor="none", zorder=1))
        ax.text(0.5, 1 + strip_h / ax_h / 2, f"{variables[i]} : {variables[j]}", transform=ax.transAxes,
                ha="center", va="center", fontsize=9.2, color="#111111")

fig.text(695 / W, 1 - 828 / H, "step", ha="center", va="center", fontsize=25)
fig.text(47 / W, 1 - 953 / H, "impulse : response", ha="left", va="center", fontsize=20)

handles = [Patch(facecolor=CI_FACE, edgecolor=CI_EDGE, lw=1.5, label="68% CI"),
           Line2D([], [], color=IRF_COL, lw=2.2, label="IRF")]
leg = fig.legend(handles=handles, loc="center", bbox_to_anchor=(694.5 / W, 1 - 889 / H), ncol=2,
                 fontsize=26.5, frameon=True, fancybox=False, edgecolor="black", framealpha=1,
                 handlelength=3.5, handleheight=0.98, handletextpad=0.6, columnspacing=1.38,
                 borderpad=0.4)
leg.get_frame().set_linewidth(1.3)

# highlight ring around inst100 : gdpgr100
fig.add_artist(Ellipse((182.5 / W, 1 - 357.5 / H), 197 / W, 159 / H, transform=fig.transFigure,
                       facecolor="none", edgecolor=RING, lw=3.0, zorder=20))

fig.savefig("out.png", dpi=100, facecolor=fig.get_facecolor())
